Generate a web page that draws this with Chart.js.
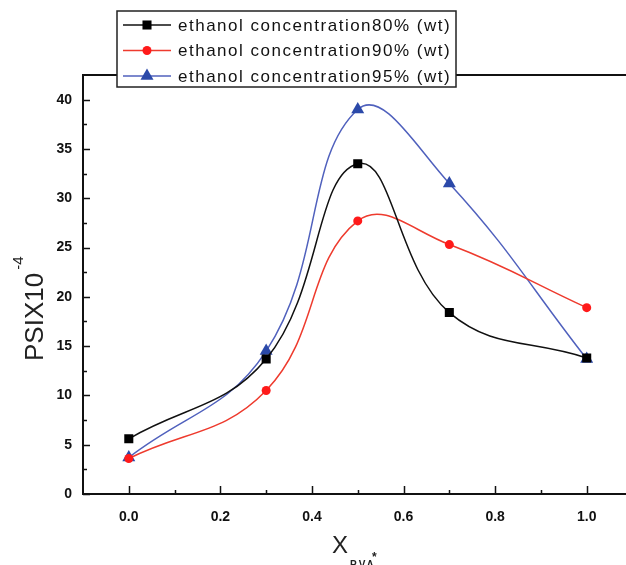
<!DOCTYPE html>
<html>
<head>
<meta charset="utf-8">
<title>PSI x X PVA</title>
<script src="https://cdn.jsdelivr.net/npm/chart.js@4.4.1/dist/chart.umd.min.js"></script>
<style>
    html, body { margin: 0; padding: 0; background: #fff; overflow: hidden; }
    #wrap { width: 640px; height: 565px; }
</style>
</head>
<body>
<div id="wrap"><canvas id="grafico" width="640" height="565"></canvas></div>
<script>
// Dados do gráfico (PSI x10^-4 em função da fração de PVA)
var xPva = [0.0, 0.3, 0.5, 0.7, 1.0];
var psi80 = [5.6, 13.7, 33.5, 18.4, 13.8];
var psi90 = [3.6, 10.5, 27.7, 25.3, 18.9];
var psi95 = [3.7, 14.5, 39.0, 31.5, 13.7];
var rotulos = ['ethanol concentration80% (wt)', 'ethanol concentration90% (wt)', 'ethanol concentration95% (wt)'];
var xTicks = [0.0, 0.2, 0.4, 0.6, 0.8, 1.0];
var yTicks = [0, 5, 10, 15, 20, 25, 30, 35, 40];

var fonte = "'Liberation Sans', Arial, sans-serif";
Chart.defaults.font.family = fonte;

function pontos(valores) {
    return xPva.map((x, i) => ({ x: x, y: valores[i] }));
}

function serie(label, valores, cor, corPonto, estilo, raio) {
    return {
        label: label,
        data: pontos(valores),
        borderColor: cor,
        backgroundColor: corPonto,
        pointBackgroundColor: corPonto,
        pointStyle: estilo,
        pointRadius: raio,
        pointHoverRadius: raio,
        pointBorderWidth: 0,
        borderWidth: 1.5,
        showLine: true,
        fill: false,
        tension: 0.42
    };
}

// Moldura e marcas dos eixos (marcas para dentro)
var eixos = {
    id: 'eixos',
    beforeDatasetsDraw: function (chart) {
        const ctx = chart.ctx;
        const a = chart.chartArea;
        const sx = chart.scales.x;
        const sy = chart.scales.y;
        ctx.save();
        ctx.strokeStyle = '#111';
        ctx.lineWidth = 1.5;
        ctx.beginPath();
        yTicks.forEach(v => {
            const py = Math.round(sy.getPixelForValue(v)) + 0.5;
            ctx.moveTo(a.left, py); ctx.lineTo(a.left + 7, py);
            const pm = Math.round(sy.getPixelForValue(v + 2.5)) + 0.5;
            if (v + 2.5 < sy.max) { ctx.moveTo(a.left, pm); ctx.lineTo(a.left + 4, pm); }
        });
        xTicks.forEach(v => {
            const px = Math.round(sx.getPixelForValue(v)) + 0.5;
            ctx.moveTo(px, a.bottom); ctx.lineTo(px, a.bottom - 8);
            const pm = Math.round(sx.getPixelForValue(v - 0.1)) + 0.5;
            if (v - 0.1 > sx.min) { ctx.moveTo(pm, a.bottom); ctx.lineTo(pm, a.bottom - 4); }
        });
        ctx.stroke();
        ctx.lineWidth = 2;
        ctx.strokeRect(a.left, a.top, a.right - a.left, a.bottom - a.top);
        ctx.restore();
    }
};

// Legenda em caixa sobre o topo da área do gráfico
var legendaCaixa = {
    id: 'legendaCaixa',
    afterDraw: function (chart) {
        const ctx = chart.ctx;
        ctx.save();
        ctx.fillStyle = '#fff';
        ctx.fillRect(117, 11, 339, 76);
        ctx.strokeStyle = '#222';
        ctx.lineWidth = 1.5;
        ctx.strokeRect(117, 11, 339, 76);
        chart.data.datasets.forEach((ds, i) => {
            const y = 25 + i * 25.5;
            ctx.strokeStyle = ds.borderColor;
            ctx.lineWidth = 1.5;
            ctx.beginPath();
            ctx.moveTo(123, y); ctx.lineTo(171, y);
            ctx.stroke();
            ctx.fillStyle = ds.pointBackgroundColor;
            Chart.helpers.drawPoint(ctx, { pointStyle: ds.pointStyle, radius: ds.pointRadius, rotation: 0, borderWidth: 0 }, 147, y);
            ctx.fillStyle = '#111';
            ctx.font = '17px ' + fonte;
            ctx.letterSpacing = '1.5px';
            ctx.textAlign = 'left';
            ctx.textBaseline = 'middle';
            ctx.fillText(ds.label, 178, y + 1);
        });
        ctx.restore();
    }
};

// Títulos dos eixos com sobrescrito/subscrito
var titulos = {
    id: 'titulos',
    afterDraw: function (chart) {
        const ctx = chart.ctx;
        ctx.save();
        ctx.fillStyle = '#222';
        ctx.textAlign = 'left';
        ctx.textBaseline = 'alphabetic';
        ctx.translate(43, 361);
        ctx.rotate(-Math.PI / 2);
        ctx.font = '26px ' + fonte;
        ctx.fillText('PSIX10', 0, 0);
        const w = ctx.measureText('PSIX10').width;
        ctx.font = '15px ' + fonte;
        ctx.fillText('-4', w + 3, -20);
        ctx.restore();

        ctx.save();
        ctx.fillStyle = '#222';
        ctx.textAlign = 'left';
        ctx.textBaseline = 'alphabetic';
        ctx.font = '24px ' + fonte;
        ctx.fillText('X', 332, 553);
        ctx.font = 'bold 10px ' + fonte;
        ctx.letterSpacing = '2px';
        ctx.fillText('PVA', 350, 568);
        ctx.font = 'bold 12px ' + fonte;
        ctx.letterSpacing = '0px';
        ctx.fillText('*', 372, 561);
        ctx.restore();
    }
};

var ctx = document.getElementById('grafico').getContext('2d');
var grafico = new Chart(ctx, {
    type: 'scatter',
    data: {
        datasets: [
            serie(rotulos[0], psi80, '#111111', '#000000', 'rect', 6.4),
            serie(rotulos[1], psi90, '#ee3b2e', '#ff1a1a', 'circle', 4.5),
            serie(rotulos[2], psi95, '#5061bd', '#2b49a9', 'triangle', 7.5)
        ]
    },
    options: {
        responsive: false,
        animation: false,
        devicePixelRatio: 1,
        layout: { padding: { top: 75, right: 5, left: 0, bottom: 0 } },
        plugins: {
            legend: { display: false },
            tooltip: { enabled: false }
        },
        scales: {
            x: {
                type: 'linear',
                min: -0.1,
                max: 1.1,
                grid: { display: false, drawTicks: false },
                border: { display: false },
                ticks: {
                    color: '#111',
                    font: { size: 14, weight: 'bold' },
                    padding: 15,
                    autoSkip: false,
                    maxRotation: 0,
                    callback: v => v.toFixed(1)
                },
                afterBuildTicks: s => { s.ticks = xTicks.map(v => ({ value: v })); },
                afterFit: s => { s.height = 71; }
            },
            y: {
                min: 0,
                max: 42.5,
                grid: { display: false, drawTicks: false },
                border: { display: false },
                ticks: {
                    color: '#111',
                    font: { size: 14, weight: 'bold' },
                    padding: 11,
                    autoSkip: false,
                    callback: v => String(v)
                },
                afterBuildTicks: s => { s.ticks = yTicks.map(v => ({ value: v })); },
                afterFit: s => { s.width = 83; }
            }
        }
    },
    plugins: [eixos, legendaCaixa, titulos]
});
</script>
</body>
</html>
